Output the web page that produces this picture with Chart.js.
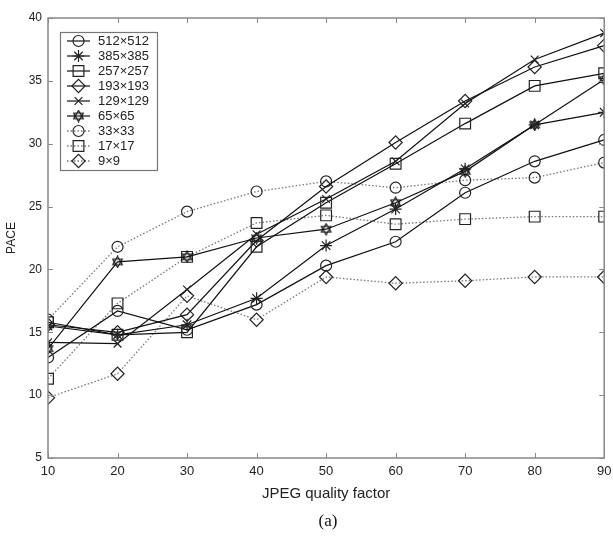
<!DOCTYPE html>
<html>
<head>
<meta charset="utf-8">
<script src="https://cdn.jsdelivr.net/npm/chart.js@4/dist/chart.umd.min.js"></script>
<style>
html,body{margin:0;padding:0;background:#fff;}
#wrap{width:613px;height:541px;position:relative;}
</style>
</head>
<body>
<div id="wrap"><canvas id="c" width="613" height="541"></canvas></div>
<script>
// ---- data ----
const quality = [10, 20, 30, 40, 50, 60, 70, 80, 90];
const seriesNames = ["512×512","385×385","257×257","193×193","129×129","65×65","33×33","17×17","9×9"];
const s512 = [13.0, 16.7, 15.2, 17.2, 20.3, 22.2, 26.1, 28.6, 30.3];
const s385 = [15.5, 14.8, 15.6, 17.7, 21.9, 24.8, 28.0, 31.5, 32.5];
const s257 = [15.8, 14.8, 15.0, 21.8, 25.3, 28.4, 31.6, 34.6, 35.6];
const s193 = [15.6, 15.0, 16.4, 22.3, 26.6, 30.1, 33.4, 36.1, 37.8];
const s129 = [14.2, 14.1, 18.4, 22.8, 25.6, 28.6, 33.2, 36.7, 38.8];
const s65  = [13.7, 20.6, 21.0, 22.5, 23.2, 25.3, 27.8, 31.5, 35.1];
const s33  = [16.0, 21.8, 24.6, 26.2, 27.0, 26.5, 27.1, 27.3, 28.5];
const s17  = [11.3, 17.3, 21.0, 23.7, 24.3, 23.6, 24.0, 24.2, 24.2];
const s9   = [9.8, 11.7, 17.9, 16.0, 19.4, 18.9, 19.1, 19.4, 19.4];
const xTicks = [10, 20, 30, 40, 50, 60, 70, 80, 90];
const yTicks = [5, 10, 15, 20, 25, 30, 35, 40];

// hexagram marker
function hexagram(size, color){
  const cv = document.createElement('canvas');
  cv.width = size; cv.height = size;
  const g = cv.getContext('2d');
  const c = size/2, r = size/2 - 1;
  g.strokeStyle = color; g.lineWidth = 1.2;
  for (let t = 0; t < 2; t++){
    g.beginPath();
    for (let i = 0; i < 3; i++){
      const a = -Math.PI/2 + t*Math.PI + i*2*Math.PI/3;
      const px = c + r*Math.cos(a), py = c + r*Math.sin(a);
      if (i === 0) g.moveTo(px, py); else g.lineTo(px, py);
    }
    g.closePath(); g.stroke();
  }
  return cv;
}
const hexImg = hexagram(13, '#111');

const values = [s512, s385, s257, s193, s129, s65, s33, s17, s9];
const styles = ['circle','star','rect','rectRot','crossRot', hexImg, 'circle','rect','rectRot'];
const dotted = [false,false,false,false,false,false,true,true,true];
function radiusFor(st){
  if (st === 'rect') return 7.6;
  if (st === 'rectRot') return 6.6;
  if (st === 'star') return 6;
  return 5.5;
}

const datasets = values.map((v, i) => ({
  label: seriesNames[i],
  data: v.map((y, j) => ({x: quality[j], y})),
  borderColor: dotted[i] ? '#777' : '#111',
  borderWidth: dotted[i] ? 1.3 : 1.2,
  borderDash: dotted[i] ? [1.5, 2] : [],
  pointStyle: styles[i],
  pointRadius: radiusFor(styles[i]),
  pointBorderColor: '#222',
  pointBackgroundColor: 'rgba(0,0,0,0)',
  pointBorderWidth: 1.2,
  fill: false,
  tension: 0
}));

const framePlugin = {
  id: 'frame',
  afterDatasetsDraw(chart){
    const {ctx, chartArea: a, scales: {x, y}} = chart;
    ctx.save();
    ctx.strokeStyle = '#888';
    ctx.lineWidth = 1.5;
    ctx.strokeRect(a.left, a.top, a.right - a.left, a.bottom - a.top);
    ctx.lineWidth = 1;
    const tl = 5;
    ctx.beginPath();
    xTicks.forEach(t => {
      const px = Math.round(x.getPixelForValue(t)) + 0.5;
      ctx.moveTo(px, a.bottom); ctx.lineTo(px, a.bottom - tl);
      ctx.moveTo(px, a.top); ctx.lineTo(px, a.top + tl);
    });
    yTicks.forEach(t => {
      const py = Math.round(y.getPixelForValue(t)) + 0.5;
      ctx.moveTo(a.left, py); ctx.lineTo(a.left + tl, py);
      ctx.moveTo(a.right, py); ctx.lineTo(a.right - tl, py);
    });
    ctx.stroke();

    // legend
    const lx = 60.5, ly = 32.5, lw = 97, lh = 138;
    ctx.fillStyle = '#fff';
    ctx.fillRect(lx, ly, lw, lh);
    ctx.strokeStyle = '#777';
    ctx.lineWidth = 1.2;
    ctx.strokeRect(lx, ly, lw, lh);
    ctx.font = '13px "Liberation Sans", Arial, sans-serif';
    ctx.textBaseline = 'middle';
    chart.data.datasets.forEach((ds, i) => {
      const yy = 41 + i * 15;
      ctx.save();
      ctx.strokeStyle = ds.borderColor;
      ctx.lineWidth = ds.borderWidth;
      ctx.setLineDash(ds.borderDash);
      ctx.beginPath(); ctx.moveTo(67, yy); ctx.lineTo(90, yy); ctx.stroke();
      ctx.restore();
      ctx.save();
      ctx.strokeStyle = '#222';
      ctx.fillStyle = 'rgba(0,0,0,0)';
      ctx.lineWidth = 1.2;
      Chart.helpers.drawPoint(ctx, {pointStyle: ds.pointStyle, radius: ds.pointRadius, rotation: 0, borderWidth: 1.2}, 78.5, yy);
      ctx.restore();
      ctx.fillStyle = '#222';
      ctx.fillText(ds.label, 98, yy + 0.5);
    });

    // caption
    ctx.fillStyle = '#111';
    ctx.font = '17px "Liberation Serif", "Times New Roman", serif';
    ctx.textAlign = 'center';
    ctx.textBaseline = 'middle';
    ctx.fillText('(a)', 328, 522);
    ctx.restore();
  }
};

new Chart(document.getElementById('c'), {
  type: 'line',
  data: { datasets },
  plugins: [framePlugin],
  options: {
    responsive: false,
    animation: false,
    events: [],
    layout: { padding: { top: 18, right: 5, left: 0, bottom: 0 } },
    plugins: { legend: { display: false }, tooltip: { enabled: false }, title: { display: false } },
    scales: {
      x: {
        type: 'linear', min: 10, max: 90,
        afterBuildTicks(s){ s.ticks = xTicks.map(v => ({value: v})); },
        afterFit(s){ s.height = 83; s.paddingLeft = 0; s.paddingRight = 0; },
        grid: { drawOnChartArea: false, drawTicks: false },
        border: { display: false },
        ticks: { padding: 6, color: '#222', font: { size: 13, family: '"Liberation Sans", Arial, sans-serif' }, maxRotation: 0, autoSkip: false },
        title: { display: true, text: 'JPEG quality factor', color: '#222', font: { size: 15, family: '"Liberation Sans", Arial, sans-serif' }, padding: { top: 8, bottom: 38 } }
      },
      y: {
        type: 'linear', min: 5, max: 40,
        afterBuildTicks(s){ s.ticks = yTicks.map(v => ({value: v})); },
        afterFit(s){ s.width = 48; s.paddingTop = 0; s.paddingBottom = 0; },
        grid: { drawOnChartArea: false, drawTicks: false },
        border: { display: false },
        ticks: { padding: 6, color: '#222', font: { size: 12, family: '"Liberation Sans", Arial, sans-serif' }, autoSkip: false },
        title: { display: true, text: 'PACE', color: '#222', font: { size: 12, family: '"Liberation Sans", Arial, sans-serif' }, padding: { top: 4, bottom: 0 } }
      }
    }
  }
});
</script>
</body>
</html>
